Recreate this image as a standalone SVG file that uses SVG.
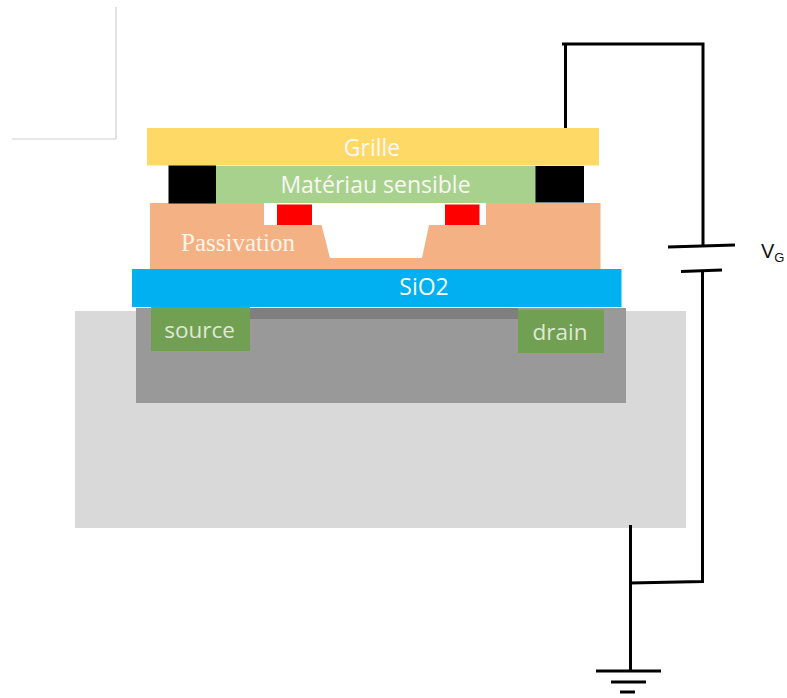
<svg xmlns="http://www.w3.org/2000/svg" width="787" height="698" viewBox="0 0 787 698">
<style>
.lbl{font-family:"Open Sans","Noto Sans","DejaVu Sans",sans-serif;fill:#f8f8f4;text-anchor:middle}
.wire{fill:none;stroke:#000;stroke-width:3;stroke-linejoin:miter}
.pass{fill:#f4b183}
</style>
<rect width="787" height="698" fill="#fff"/>
<g id="frame"><path d="M116 7V139H12" fill="none" stroke="#d0d0d0" stroke-width="1.200"/></g>
<g id="substrate"><rect x="75" y="311" width="611" height="217" fill="#d9d9d9"/></g>
<g id="channel"><rect x="136" y="308" width="490" height="95" fill="#999"/><rect x="250" y="308" width="268" height="11" fill="#7f7f7f"/></g>
<g id="source"><rect x="151" y="307" width="99" height="44" fill="#72a052"/><text class="lbl" x="199.500" y="338" font-size="22.500" style="fill:#dfe8d6">source</text></g>
<g id="drain"><rect x="518" y="310" width="86" height="43" fill="#72a052"/><text class="lbl" x="560" y="340" font-size="22.500" style="fill:#dfe8d6">drain</text></g>
<g id="passivation">
<path class="pass" d="M150 203H264V225H321.500L330 258H422L429 225H486V203H600.500V270H150Z"/>
<text x="181" y="251" font-family="Liberation Serif,serif" font-size="25" fill="#fdf4ec">Passivation</text>
</g>
<g id="contact-left"><rect x="277" y="204.500" width="35" height="20.500" fill="#f00"/></g>
<g id="contact-right"><rect x="445" y="204.500" width="34.500" height="20.500" fill="#f00"/></g>
<g id="sio2"><rect x="132" y="269" width="489.500" height="38" fill="#00b0f0"/><text class="lbl" x="424" y="295" font-size="23">SiO2</text></g>
<g id="grille"><rect x="147" y="128" width="452" height="37.500" fill="#ffd966"/><text class="lbl" x="372" y="156" font-size="23">Grille</text></g>
<g id="materiau"><rect x="216" y="166" width="320" height="37" fill="#a9d18e"/><text class="lbl" x="375.500" y="193" font-size="23">Matériau sensible</text></g>
<g id="spacer-left"><rect x="168.500" y="165.500" width="47.500" height="38" fill="#000"/></g>
<g id="spacer-right"><rect x="535.500" y="166" width="48.500" height="36.500" fill="#000"/></g>
<g id="connectors">
<path class="wire" d="M562 44H703V246"/>
<path class="wire" d="M565.500 44V128"/>
<path class="wire" d="M668 247L735 245"/>
<path class="wire" d="M681 271.500L722 270"/>
<path class="wire" d="M702.500 271V581.500L630 583"/>
<path class="wire" d="M630.500 525V671"/>
<path class="wire" d="M596 671H661"/>
<path class="wire" d="M611 682H646"/>
<path class="wire" d="M620 692H635"/>
</g>
<g id="vg"><text x="761" y="258" font-family="Liberation Sans,Arial,sans-serif" font-size="20" fill="#111">V<tspan font-size="13" dy="4">G</tspan></text></g>
</svg>
